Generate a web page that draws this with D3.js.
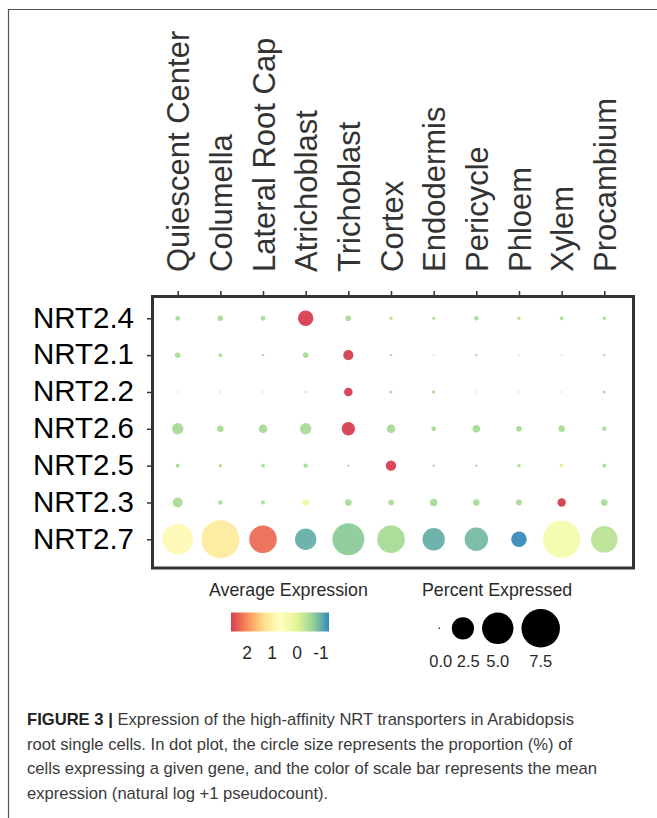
<!DOCTYPE html>
<html>
<head>
<meta charset="utf-8">
<script src="https://cdn.jsdelivr.net/npm/d3@7"></script>
<style>
  body { margin: 0; background: #fff; }
  svg { display: block; font-family: "Liberation Sans", Arial, sans-serif; }
</style>
</head>
<body>
<svg width="657" height="818"></svg>
<script>
// cell types (columns) and genes (rows, top to bottom)
const cells = ["Quiescent Center", "Columella", "Lateral Root Cap", "Atrichoblast", "Trichoblast",
  "Cortex", "Endodermis", "Pericycle", "Phloem", "Xylem", "Procambium"];
const genes = ["NRT2.4", "NRT2.1", "NRT2.2", "NRT2.6", "NRT2.5", "NRT2.3", "NRT2.7"];

// percent expressed, one array per gene, in the order of cells
const pctNRT24 = [0.11, 0.15, 0.11, 1.20, 0.16, 0.05, 0.05, 0.10, 0.05, 0.07, 0.06];
const pctNRT21 = [0.15, 0.07, 0.03, 0.16, 0.51, 0.03, 0.01, 0.03, 0.01, 0.01, 0.03];
const pctNRT22 = [0.01, 0.01, 0.01, 0.015, 0.37, 0.05, 0.06, 0.01, 0.01, 0.01, 0.05];
const pctNRT26 = [0.66, 0.22, 0.37, 0.66, 0.91, 0.37, 0.11, 0.29, 0.16, 0.21, 0.10];
const pctNRT25 = [0.08, 0.05, 0.07, 0.10, 0.03, 0.55, 0.03, 0.03, 0.06, 0.08, 0.08];
const pctNRT23 = [0.51, 0.10, 0.08, 0.22, 0.22, 0.16, 0.28, 0.21, 0.18, 0.36, 0.22];
const pctNRT27 = [4.74, 7.31, 3.85, 2.32, 5.18, 3.85, 2.54, 2.77, 1.23, 7.08, 3.58];

// average expression
const avgNRT24 = [-0.5, -0.5, -0.5, 2.64, -0.5, -0.5, -0.5, -0.5, -0.5, -0.5, -0.5];
const avgNRT21 = [-0.5, -0.5, -0.5, -0.5, 2.64, -0.5, -0.5, -0.5, -0.5, -0.5, -0.5];
const avgNRT22 = [-0.5, -0.5, -0.5, -0.5, 2.64, -0.5, -0.5, -0.5, -0.5, -0.5, -0.5];
const avgNRT26 = [-0.5, -0.5, -0.5, -0.5, 2.64, -0.5, -0.5, -0.5, -0.5, -0.5, -0.5];
const avgNRT25 = [-0.5, -0.5, -0.5, -0.5, -0.5, 2.64, -0.5, -0.5, -0.5, 0.0, -0.5];
const avgNRT23 = [-0.5, -0.5, -0.5, 0.2, -0.5, -0.5, -0.5, -0.5, -0.5, 2.64, -0.5];
const avgNRT27 = [0.8, 1.1, 2.25, -0.95, -0.7, -0.5, -0.95, -0.85, -1.25, 0.4, -0.35];

const pctRows = [pctNRT24, pctNRT21, pctNRT22, pctNRT26, pctNRT25, pctNRT23, pctNRT27];
const avgRows = [avgNRT24, avgNRT21, avgNRT22, avgNRT26, avgNRT25, avgNRT23, avgNRT27];

// legends
const colorTicks = [2, 1, 0, -1];
const colorDomain = [2.64, -1.28];
const sizeTicks = [0, 2.5, 5, 7.5];
const spectral = ["#d53e4f", "#fc8d59", "#fee08b", "#ffffbf", "#e6f598", "#99d594", "#3288bd"];

const caption = [
  "root single cells. In dot plot, the circle size represents the proportion (%) of",
  "cells expressing a given gene, and the color of scale bar represents the mean",
  "expression (natural log +1 pseudocount)."
];

function buildData() {
  let arr = [];
  genes.forEach((g, i) => {
    cells.forEach((c, j) => {
      arr.push({gene: g, cell: c, pct: pctRows[i][j], avg: avgRows[i][j]});
    });
  });
  return arr;
}

function drawChart() {
  const svg = d3.select("svg");
  const data = buildData();

  const box = {x0: 152.5, y0: 296.5, x1: 633.5, y1: 568};

  // figure frame (left and top rules)
  svg.append("line").attr("x1", 8.5).attr("x2", 8.5).attr("y1", 9).attr("y2", 818)
    .attr("stroke", "#555").attr("stroke-width", 1.2);
  svg.append("line").attr("x1", 8).attr("x2", 657).attr("y1", 9.5).attr("y2", 9.5)
    .attr("stroke", "#555").attr("stroke-width", 1.2);

  // scales
  const scX = d3.scalePoint().domain(cells).range([177.7, 604.3]);
  const scY = d3.scalePoint().domain(genes).range([318.3, 539.3]);
  const scR = d3.scaleSqrt().domain([0, 7.5]).range([0, 19.25]);
  const colorStops = d3.range(spectral.length).map(i =>
    colorDomain[0] + (colorDomain[1] - colorDomain[0]) * i / (spectral.length - 1));
  const scC = d3.scaleLinear().domain(colorStops).range(spectral).clamp(true);

  // panel box
  svg.append("rect")
    .attr("x", box.x0).attr("y", box.y0)
    .attr("width", box.x1 - box.x0).attr("height", box.y1 - box.y0)
    .attr("fill", "none").attr("stroke", "#333").attr("stroke-width", 3);

  // top axis with rotated cell names
  const axTop = svg.append("g")
    .attr("transform", `translate(0, ${box.y0 - 1.5})`)
    .call(d3.axisTop(scX).tickSize(4).tickSizeOuter(0));
  axTop.select(".domain").remove();
  axTop.selectAll("line").attr("stroke", "#333").attr("stroke-width", 1.5);
  axTop.selectAll("text")
    .attr("transform", "rotate(-90)")
    .attr("x", 23).attr("y", 0).attr("dy", "0.36em")
    .style("text-anchor", "start")
    .style("font-size", "31px")
    .attr("fill", "#333");

  // left axis with gene names
  const axLeft = svg.append("g")
    .attr("transform", `translate(${box.x0 - 1.5}, 0)`)
    .call(d3.axisLeft(scY).tickSize(4).tickSizeOuter(0).tickPadding(13));
  axLeft.select(".domain").remove();
  axLeft.selectAll("line").attr("stroke", "#333").attr("stroke-width", 1.5);
  axLeft.selectAll("text")
    .attr("dy", "0.3em")
    .style("font-size", "29.5px")
    .attr("fill", "#000");

  // dots
  svg.append("g").selectAll("circle")
    .data(data)
    .enter()
    .append("circle")
    .attr("cx", d => scX(d.cell))
    .attr("cy", d => scY(d.gene))
    .attr("r", d => Math.max(0.7, scR(d.pct)))
    .attr("fill", d => scC(d.avg))
    .attr("fill-opacity", 0.95);

  drawColorLegend(svg, scC);
  drawSizeLegend(svg, scR);
  drawCaption(svg);
}

function drawColorLegend(svg, scC) {
  const g = svg.append("g");
  g.append("text").attr("x", 209).attr("y", 596)
    .style("font-size", "17.8px").attr("fill", "#2a2a2a")
    .text("Average Expression");

  const scBar = d3.scaleLinear().domain([2, -1]).range([247, 322]);
  const [xa, xb] = colorDomain.map(scBar);
  const grad = svg.append("defs").append("linearGradient").attr("id", "avgGrad");
  d3.range(0, 1.0001, 0.05).forEach(t => {
    grad.append("stop").attr("offset", t)
      .attr("stop-color", scC(colorDomain[0] + (colorDomain[1] - colorDomain[0]) * t));
  });
  g.append("rect").attr("x", xa).attr("y", 612.5)
    .attr("width", xb - xa).attr("height", 19)
    .attr("fill", "url(#avgGrad)");

  g.selectAll(".ctick").data(colorTicks).enter()
    .append("text")
    .attr("x", d => scBar(d) + (d < 0 ? -1 : 0))
    .attr("y", 658.5)
    .style("text-anchor", "middle")
    .style("font-size", "17.5px").attr("fill", "#2a2a2a")
    .text(d => d);
}

function drawSizeLegend(svg, scR) {
  const g = svg.append("g");
  g.append("text").attr("x", 422).attr("y", 596)
    .style("font-size", "17.8px").attr("fill", "#2a2a2a")
    .text("Percent Expressed");

  // key widths follow the circle size
  let centers = [];
  let cx = 439.3, prevW = null;
  sizeTicks.forEach(v => {
    const w = Math.max(17, 2 * scR(v) + 8);
    if (prevW !== null) cx += (prevW + w) / 2;
    centers.push(cx);
    prevW = w;
  });
  g.selectAll("circle").data(sizeTicks).enter()
    .append("circle")
    .attr("cx", (d, i) => centers[i])
    .attr("cy", 628.3)
    .attr("r", d => Math.max(0.8, scR(d)))
    .attr("fill", "#000");

  let lab = [];
  centers.forEach((c, i) => lab.push(i === 0 ? c + 1.5 : Math.max(c, lab[i - 1] + 27.5)));
  g.selectAll(".stick").data(sizeTicks).enter()
    .append("text")
    .attr("x", (d, i) => lab[i])
    .attr("y", 667)
    .style("text-anchor", "middle")
    .style("font-size", "16.5px").attr("fill", "#2a2a2a")
    .text(d => d3.format(".1f")(d));
}

function drawCaption(svg) {
  const g = svg.append("g").style("font-size", "16.6px").attr("fill", "#3a3a3a");
  const first = g.append("text").attr("x", 27).attr("y", 725);
  first.append("tspan").style("font-weight", "bold").attr("fill", "#222").text("FIGURE 3 | ");
  first.append("tspan").text("Expression of the high-affinity NRT transporters in Arabidopsis");
  g.selectAll(".cap").data(caption).enter()
    .append("text")
    .attr("x", 27)
    .attr("y", (d, i) => 749.5 + i * 24.8)
    .text(d => d);
}

drawChart();
</script>
</body>
</html>
